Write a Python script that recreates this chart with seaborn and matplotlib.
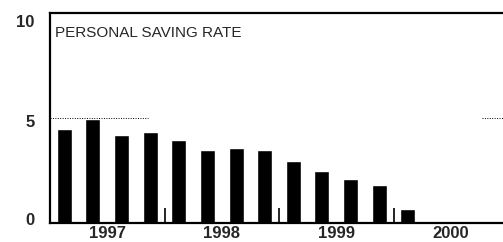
####################     importations     ####################
import numpy as np
import matplotlib
matplotlib.use('Agg')
import seaborn as sns
import matplotlib.pyplot as plt
from matplotlib.transforms import ScaledTranslation

# données (taux d'épargne, trimestriel)
trimestres = [f'{a}Q{q}' for a in (1997, 1998, 1999, 2000) for q in (1, 2, 3, 4)]
taux = [4.46, 4.97, 4.18, 4.35, 3.95, 3.46, 3.56, 3.48, 2.97, 2.49, 2.08, 1.80, 0.68]
annees = ['1997', '1998', '1999', '2000']
yticks = [0, 5, 10]

sns.set_style('white')
plt.rcParams['font.family'] = ['Liberation Sans', 'DejaVu Sans']

fig = plt.figure(figsize=(5.03, 2.42), dpi=100)
ax = fig.add_axes([50 / 503, 19 / 242, 458 / 503, 210 / 242])

# barres
sns.barplot(x=trimestres[:len(taux)], y=taux, order=trimestres, color='black',
            width=0.52, saturation=1, ax=ax)

ax.set_xlim(-0.5, len(trimestres) - 0.5)
ax.set_ylim(0, 10)
ax.set_xlabel('')
ax.set_ylabel('')

# axe x : années au milieu, petites marques entre années
ax.set_xticks([i * 4 + 1.5 for i in range(len(annees))])
ax.set_xticklabels(annees, fontsize=12, fontweight='bold')
ax.set_xticks([3.5, 7.5, 11.5], minor=True)
ax.tick_params(axis='x', which='major', length=0, pad=2)
ax.tick_params(axis='x', which='minor', direction='in', length=11, width=1.2,
               color='black', bottom=True)

# axe y
ax.set_yticks(yticks)
ax.set_yticklabels([str(v) for v in yticks], fontsize=12, fontweight='bold')
ax.tick_params(axis='y', length=0, pad=11)
# décalage des labels comme sur l'original
decal = {'0': 4, '5': -3, '10': -8}
for lab in ax.get_yticklabels():
    dy = decal.get(lab.get_text(), 0)
    lab.set_transform(lab.get_transform() + ScaledTranslation(0, dy / 100, fig.dpi_scale_trans))

# ligne pointillée à 5
ax.axhline(5, xmin=0, xmax=0.214, color='black', linestyle=(0, (1, 1.5)), linewidth=0.7)
ax.axhline(5, xmin=0.943, xmax=1, color='black', linestyle=(0, (1, 1.5)), linewidth=0.7)

# cadre
for s in ['left', 'top', 'bottom']:
    ax.spines[s].set_visible(True)
    ax.spines[s].set_color('black')
    ax.spines[s].set_linewidth(1.6)
ax.spines['right'].set_visible(False)

ax.text(0.011, 0.938, 'PERSONAL SAVING RATE', transform=ax.transAxes,
        fontsize=11, va='top', ha='left')

fig.savefig('out.png', dpi=100)
plt.close()
